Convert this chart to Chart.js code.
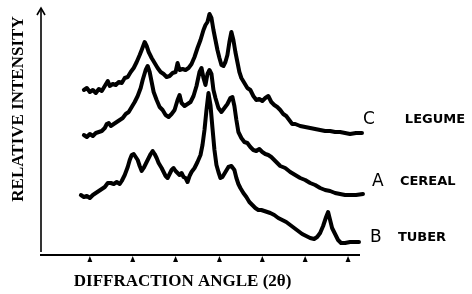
<!DOCTYPE html>
<html>
<head>
<meta charset="utf-8">
<script src="https://cdn.jsdelivr.net/npm/chart.js@4/dist/chart.umd.min.js"></script>
<style>
html,body{margin:0;padding:0;background:#fff;}
#c{display:block;}
</style>
</head>
<body>
<canvas id="c" width="472" height="294"></canvas>
<script>
// Diffraction patterns (arbitrary units: x = angle position, y = relative intensity)
const legumeX = [43,46,49,52,55,58,61,64,67,69,72,75,78,81,84,87,90,93,96,99,101,104,106,108,111,114,117,120,123,126,129,132,135,137,139,142,145,148,151,154,157,160,163,165,167,169,171,173,175,177,179,181,183,185,187,189,191,193,195,197,199,201,204,207,210,213,216,219,222,225,228,231,234,237,240,243,246,249,252,255,260,265,270,275,280,285,290,295,300,305,310,316,322];
const legumeY = [165,167,163,165,162,166,164,169,174,169,171,170,173,172,177,178,183,187,193,200,205,213,209,203,197,192,187,183,181,178,179,182,183,192,185,186,185,187,191,198,207,215,225,230,233,241,237,225,215,205,197,190,189,193,200,213,223,215,203,193,183,177,172,167,165,159,155,156,154,157,159,153,150,148,145,141,139,135,131,131,129,128,127,126,125,124,124,123,123,122,121,122,122];

const cerealX = [43,46,49,52,55,58,61,64,66,68,70,73,76,79,82,85,88,91,94,97,100,102,105,107,109,111,113,116,119,122,125,128,131,134,137,139,141,144,147,150,153,156,159,161,163,165,167,169,171,173,175,178,181,184,187,190,192,194,196,198,201,204,207,210,213,216,219,222,225,228,231,235,240,245,250,255,260,265,270,275,280,285,290,295,300,305,310,316,323];
const cerealY = [120,118,121,119,122,123,124,127,131,132,129,131,133,135,137,141,143,148,153,159,167,175,185,189,183,173,163,155,148,145,140,138,141,145,155,160,152,149,151,153,159,169,183,187,177,170,181,185,181,165,157,147,143,147,151,157,158,149,135,123,117,113,112,108,105,104,106,103,101,100,98,94,89,87,83,80,77,75,72,70,67,65,64,62,61,60,60,60,61];

const tuberX = [40,43,46,49,52,55,58,61,64,67,70,73,76,79,81,84,87,89,91,93,95,97,99,101,103,105,108,110,112,114,116,118,121,123,125,127,129,131,133,135,137,139,141,143,145,147,149,151,154,157,160,162,164,166,168,170,172,174,176,178,180,182,185,188,191,194,196,198,200,203,206,209,212,215,218,221,224,227,230,234,238,242,246,250,254,258,262,266,270,274,277,280,283,286,288,290,292,295,298,301,305,310,316,319];
const tuberY = [60,58,59,57,60,62,64,66,68,72,72,71,73,71,74,80,88,95,100,101,98,95,89,84,87,91,97,101,104,101,97,92,87,83,79,77,81,85,87,84,82,80,82,78,77,73,79,83,87,93,100,110,125,145,162,150,127,105,90,83,77,78,83,88,89,85,77,71,67,62,58,53,50,47,45,45,44,43,42,40,37,35,33,30,27,24,21,19,17,16,18,22,29,38,43,35,27,21,15,12,12,13,13,13];

const tickPositions = [49,92,135,179,222,265,308];
const seriesLabels = [
  {letter:'C', name:'LEGUME', lx:323, nx:365, y:135},
  {letter:'A', name:'CEREAL', lx:332, nx:360, y:73},
  {letter:'B', name:'TUBER',  lx:330, nx:358, y:17}
];
const xTitle = 'DIFFRACTION ANGLE (2\u03B8)';
const yTitle = 'RELATIVE INTENSITY';

function pts(xs, ys){ return xs.map((x,i)=>({x:x, y:ys[i]})); }

const decor = {
  id:'decor',
  afterDraw(chart){
    const ctx = chart.ctx, a = chart.chartArea;
    const xs = chart.scales.x, ys = chart.scales.y;
    ctx.save();
    ctx.strokeStyle = '#000';
    ctx.fillStyle = '#000';
    // y axis with arrow
    ctx.lineWidth = 1.6;
    ctx.beginPath();
    ctx.moveTo(a.left, a.bottom - 3);
    ctx.lineTo(a.left, a.top);
    ctx.stroke();
    ctx.beginPath();
    ctx.moveTo(a.left - 4, a.top + 7);
    ctx.lineTo(a.left, a.top);
    ctx.lineTo(a.left + 4, a.top + 7);
    ctx.stroke();
    // x axis
    ctx.lineWidth = 2;
    ctx.beginPath();
    ctx.moveTo(a.left - 1, a.bottom);
    ctx.lineTo(a.right, a.bottom);
    ctx.stroke();
    // tick marks
    tickPositions.forEach(t => {
      const px = xs.getPixelForValue(t);
      ctx.beginPath();
      ctx.moveTo(px, a.bottom + 1);
      ctx.lineTo(px - 2.5, a.bottom + 7);
      ctx.lineTo(px + 2.5, a.bottom + 7);
      ctx.closePath();
      ctx.fill();
    });
    // titles
    ctx.font = 'bold 17px "Liberation Serif", "DejaVu Serif", serif';
    ctx.textAlign = 'center';
    ctx.textBaseline = 'middle';
    ctx.fillText(xTitle, xs.getPixelForValue(142), a.bottom + 27);
    ctx.save();
    ctx.translate(a.left - 22, ys.getPixelForValue(146));
    ctx.rotate(-Math.PI/2);
    ctx.fillText(yTitle, 0, 0);
    ctx.restore();
    // series labels
    ctx.textAlign = 'left';
    seriesLabels.forEach(l => {
      const py = ys.getPixelForValue(l.y);
      ctx.font = '17px "DejaVu Sans", sans-serif';
      ctx.fillText(l.letter, xs.getPixelForValue(l.lx), py);
      ctx.font = 'bold 13px "DejaVu Sans", sans-serif';
      ctx.fillText(l.name, xs.getPixelForValue(l.nx), py);
    });
    ctx.restore();
  }
};

const common = {borderColor:'#000', borderWidth:4, pointRadius:0, tension:0, borderJoinStyle:'round', borderCapStyle:'round', fill:false, clip:false};

new Chart(document.getElementById('c'), {
  type:'line',
  data:{
    datasets:[
      Object.assign({label:'C LEGUME', data:pts(legumeX, legumeY)}, common),
      Object.assign({label:'A CEREAL', data:pts(cerealX, cerealY)}, common),
      Object.assign({label:'B TUBER', data:pts(tuberX, tuberY)}, common)
    ]
  },
  options:{
    responsive:false,
    animation:false,
    devicePixelRatio:1,
    layout:{padding:{left:41, right:112, top:8, bottom:39}},
    plugins:{legend:{display:false}, tooltip:{enabled:false}},
    scales:{
      x:{type:'linear', min:0, max:320, display:false},
      y:{min:0, max:247, display:false}
    }
  },
  plugins:[decor]
});
</script>
</body>
</html>
